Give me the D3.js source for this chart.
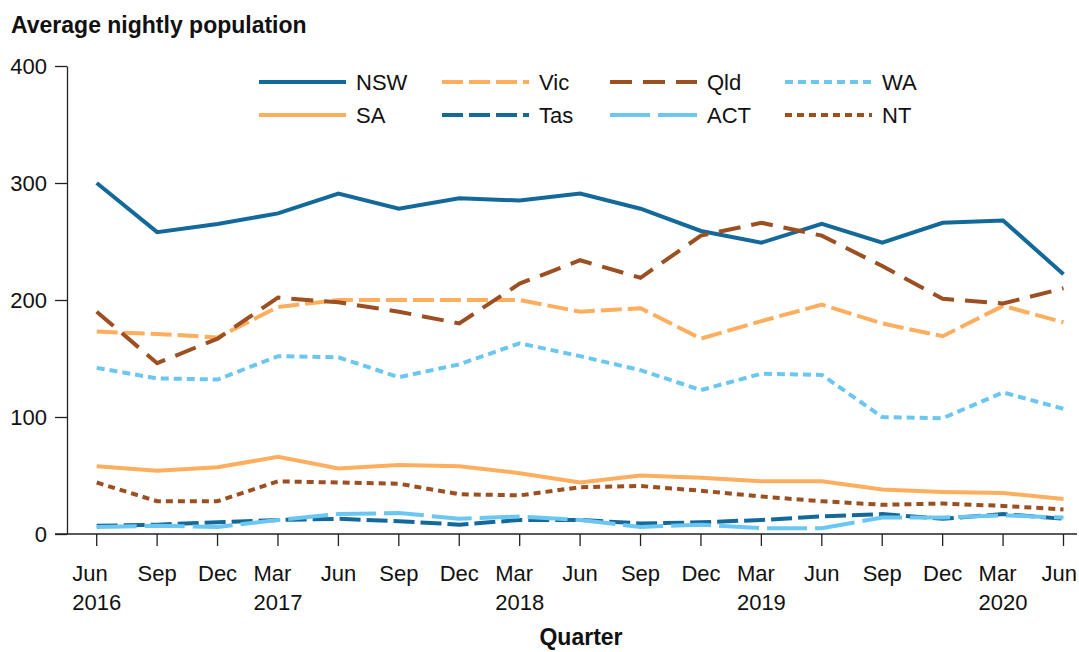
<!DOCTYPE html>
<html>
<head>
<meta charset="utf-8">
<script src="https://cdn.jsdelivr.net/npm/d3@7"></script>
<style>
body { margin:0; background:#fff; }
svg text { font-family: "Liberation Sans", Arial, sans-serif; fill:#111; }
.title { font-weight:bold; font-size:23px; }
.label { font-weight:bold; font-size:23px; }
.tick text { font-size:22px; }
.legend text { font-size:22px; }
</style>
</head>
<body>
<svg id="graph"></svg>
<script>
var quarterLabels = ["Jun","Sep","Dec","Mar","Jun","Sep","Dec","Mar","Jun","Sep","Dec","Mar","Jun","Sep","Dec","Mar","Jun"];
var yearLabels = ["2016","","","2017","","","","2018","","","","2019","","","","2020",""];
var yTicks = [0,100,200,300,400];

var nsw = [300,258,265,274,291,278,287,285,291,278,259,249,265,249,266,268,222];
var vic = [173,171,168,194,200,200,200,200,190,193,167,182,196,180,169,195,181];
var qld = [190,146,167,202,198,190,180,214,234,219,255,266,255,229,201,197,210];
var wa  = [142,133,132,152,151,134,145,163,152,140,123,137,136,100,99,121,107];
var sa  = [58,54,57,66,56,59,58,52,44,50,48,45,45,38,36,35,30];
var tas = [7,8,10,12,13,11,8,12,12,9,10,12,15,17,13,17,13];
var act = [6,7,6,12,17,18,13,15,12,6,8,5,5,14,14,16,14];
var nt  = [44,28,28,45,44,43,34,33,40,41,37,32,28,25,26,24,21];

var blue = "#14699b", orange = "#fdae5e", brown = "#9c4f20", light = "#6bc7f1";

var series = [
    {name:"NSW", values:nsw, color:blue,   dash:null},
    {name:"Vic", values:vic, color:orange, dash:"21,6"},
    {name:"Qld", values:qld, color:brown,  dash:"22,11"},
    {name:"WA",  values:wa,  color:light,  dash:"8,5"},
    {name:"SA",  values:sa,  color:orange, dash:null},
    {name:"Tas", values:tas, color:blue,   dash:"21,6"},
    {name:"ACT", values:act, color:light,  dash:"40,8"},
    {name:"NT",  values:nt,  color:brown,  dash:"7,5"}
];

var screen = {width:1079, height:652};
var margins = {top:66, bottom:118, left:67, right:16};

var svg = d3.select("#graph")
    .attr("width", screen.width)
    .attr("height", screen.height);

var xScale = d3.scaleLinear()
    .domain([0, quarterLabels.length-1])
    .range([96.7, 1063.5]);
var yScale = d3.scaleLinear()
    .domain([0, 400])
    .range([screen.height-margins.bottom, margins.top]);

// title
svg.append("text")
    .classed("title", true)
    .attr("x", 11)
    .attr("y", 33)
    .text("Average nightly population");

// y axis
var yAxis = d3.axisLeft(yScale)
    .tickValues(yTicks)
    .tickSize(12)
    .tickSizeOuter(0)
    .tickPadding(8);
var yg = svg.append("g")
    .attr("transform", "translate("+margins.left+",0)")
    .call(yAxis);
yg.selectAll("line, path").attr("stroke", "#222").attr("stroke-width", 1.3);
yg.selectAll("text").attr("font-family", null).attr("font-size", null);

// x axis
var xg = svg.append("g");
xg.append("line")
    .attr("x1", 55).attr("x2", 1077)
    .attr("y1", yScale(0)).attr("y2", yScale(0))
    .attr("stroke", "#222").attr("stroke-width", 1.3);
var ticks = xg.selectAll(".tick")
    .data(quarterLabels)
    .enter()
    .append("g")
    .classed("tick", true)
    .attr("transform", function(d,i){ return "translate("+xScale(i)+","+yScale(0)+")"; });
ticks.append("line")
    .attr("y2", 12)
    .attr("stroke", "#222").attr("stroke-width", 1.3);
ticks.append("text")
    .attr("class", "month")
    .attr("y", 47)
    .text(function(d){ return d; });
ticks.append("text")
    .attr("class", "year")
    .attr("y", 76)
    .text(function(d,i){ return yearLabels[i]; });
// month left aligned with year, block centred on tick, kept inside the page
ticks.each(function(d,i)
{
    var t = d3.select(this);
    var mw = t.select(".month").node().getComputedTextLength();
    var yw = t.select(".year").node().getComputedTextLength();
    var w = Math.max(mw, yw);
    var x0 = -w/2;
    var over = xScale(i) + w/2 - (screen.width-2);
    if(over > 0){ x0 -= over; }
    t.selectAll("text").attr("x", x0);
});

svg.append("text")
    .classed("label", true)
    .attr("text-anchor", "middle")
    .attr("x", 581)
    .attr("y", 645)
    .text("Quarter");

// lines
var lineGenerator = d3.line()
    .x(function(v,i){ return xScale(i); })
    .y(function(v){ return yScale(v); });

svg.append("g")
    .selectAll("path")
    .data(series)
    .enter()
    .append("path")
    .attr("d", function(s){ return lineGenerator(s.values); })
    .attr("fill", "none")
    .attr("stroke", function(s){ return s.color; })
    .attr("stroke-width", 4)
    .attr("stroke-dasharray", function(s){ return s.dash; });

// legend
var colX = [259, 442, 610, 785];
var rowY = [82, 115];
var legend = svg.append("g").classed("legend", true);
var entries = legend.selectAll("g")
    .data(series)
    .enter()
    .append("g")
    .attr("transform", function(s,i){ return "translate("+colX[i%4]+","+rowY[Math.floor(i/4)]+")"; });
entries.append("line")
    .attr("x1", 0).attr("x2", 87)
    .attr("stroke", function(s){ return s.color; })
    .attr("stroke-width", 4)
    .attr("stroke-dasharray", function(s){ return s.dash; });
entries.append("text")
    .attr("x", 97)
    .attr("dy", "0.36em")
    .text(function(s){ return s.name; });
</script>
</body>
</html>
